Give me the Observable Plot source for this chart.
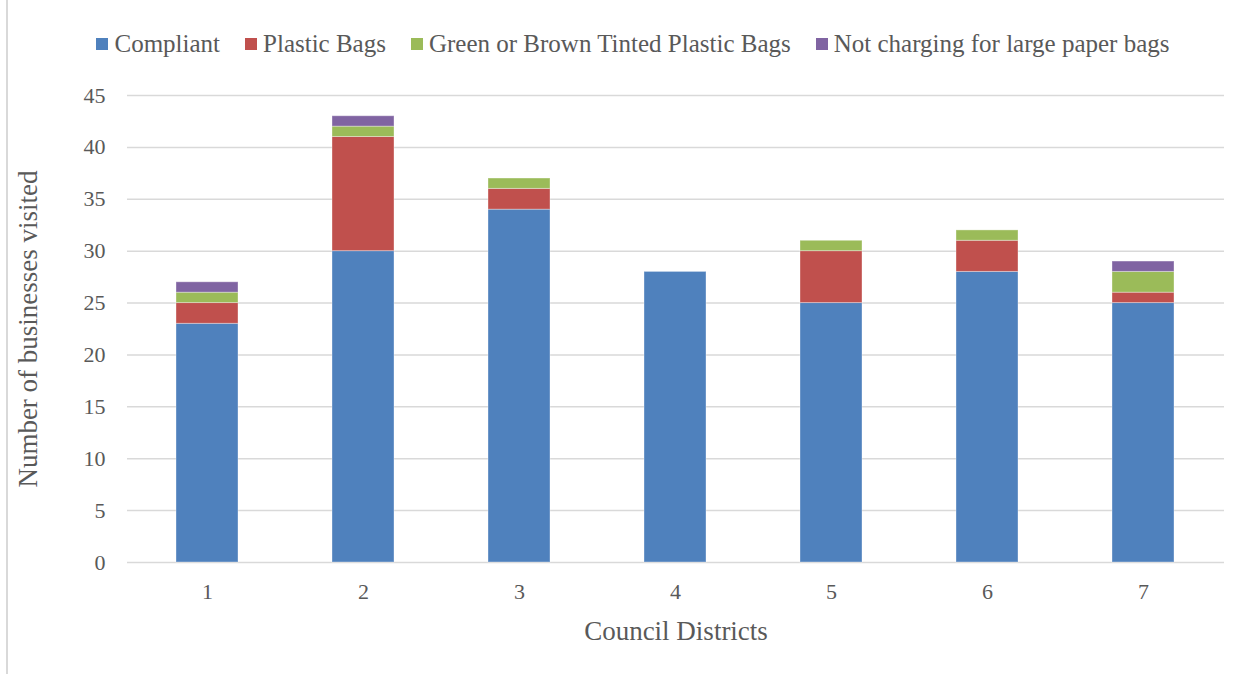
<!DOCTYPE html>
<html>
<head>
<meta charset="utf-8">
<script src="https://cdn.jsdelivr.net/npm/d3@7"></script>
<script src="https://cdn.jsdelivr.net/npm/@observablehq/plot@0.6"></script>
<style>
  html, body { margin: 0; padding: 0; background: #fff; }
  #wrap { position: relative; width: 1250px; height: 674px; overflow: hidden; font-family: "Liberation Serif", serif; color: #595959; }
  #frame { position: absolute; left: 6px; top: 0; width: 1.5px; height: 674px; background: #d9d9d9; }
  #legend { position: absolute; top: 28px; left: 0; width: 1250px; height: 32px; display: flex; justify-content: center; align-items: center; font-size: 25px; gap: 25px; padding-left: 16px; box-sizing: border-box; }
  .item { display: flex; align-items: center; }
  .sw { width: 12px; height: 12px; margin-right: 6px; }
  #chart { position: absolute; top: 70px; left: 0; }
</style>
</head>
<body>
<div id="wrap">
  <div id="frame"></div>
  <div id="legend"></div>
  <div id="chart"></div>
</div>
<script>
const districts = ["1", "2", "3", "4", "5", "6", "7"];
const seriesNames = ["Compliant", "Plastic Bags", "Green or Brown Tinted Plastic Bags", "Not charging for large paper bags"];
const seriesColors = ["#4F81BD", "#C0504D", "#9BBB59", "#8064A2"];
const compliant = [23, 30, 34, 28, 25, 28, 25];
const plasticBags = [2, 11, 2, 0, 5, 3, 1];
const tintedBags = [1, 1, 1, 0, 1, 1, 2];
const notCharging = [1, 1, 0, 0, 0, 0, 1];
const yTicks = [0, 5, 10, 15, 20, 25, 30, 35, 40, 45];

const seriesValues = [compliant, plasticBags, tintedBags, notCharging];
const data = [];
seriesNames.forEach((s, si) => {
  districts.forEach((d, di) => data.push({district: d, series: s, value: seriesValues[si][di]}));
});

const legend = document.getElementById("legend");
seriesNames.forEach((s, i) => {
  const it = document.createElement("div");
  it.className = "item";
  it.innerHTML = `<div class="sw" style="background:${seriesColors[i]}"></div><span>${s}</span>`;
  legend.appendChild(it);
});

const chart = Plot.plot({
  width: 1250,
  height: 600,
  marginTop: 25,
  marginBottom: 108,
  marginLeft: 127,
  marginRight: 26,
  style: {fontFamily: "'Liberation Serif', serif", fontSize: "22px", color: "#595959", background: "transparent"},
  x: {domain: districts, paddingInner: 0.6, paddingOuter: 0.3},
  y: {domain: [0, 45]},
  color: {domain: seriesNames, range: seriesColors},
  marks: [
    Plot.gridY(yTicks, {stroke: "#d9d9d9", strokeOpacity: 1, strokeWidth: 1.5}),
    Plot.barY(data, {x: "district", y: "value", fill: "series", stroke: "#ffffff", strokeOpacity: 0.35, strokeWidth: 1}),
    Plot.axisY(yTicks, {tickSize: 0, tickPadding: 22, fontSize: 22, label: "Number of businesses visited", labelAnchor: "center", labelArrow: "none", labelOffset: 110}),
    Plot.axisX({tickSize: 0, tickPadding: 21, fontSize: 22, label: "Council Districts", labelAnchor: "center", labelArrow: "none", labelOffset: 77})
  ]
});
chart.querySelectorAll('g[aria-label="y-axis label"], g[aria-label="x-axis label"]').forEach(g => g.setAttribute("font-size", 27));
document.getElementById("chart").appendChild(chart);
</script>
</body>
</html>
